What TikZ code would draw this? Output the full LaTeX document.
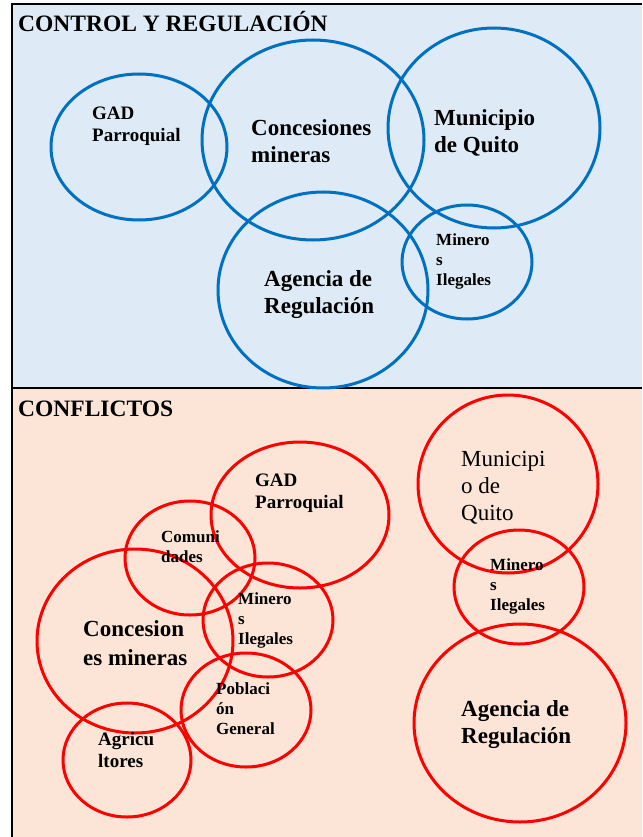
\documentclass[tikz,border=0pt]{standalone}
\usepackage{fontspec}
\setmainfont{Liberation Serif}
\usetikzlibrary{shapes.geometric}

\definecolor{ctrlblue}{RGB}{0,112,192}
\definecolor{ctrlfill}{RGB}{222,235,247}
\definecolor{conffill}{RGB}{252,228,214}
\definecolor{confred}{RGB}{255,0,0}

\tikzstyle{blueset} = [ellipse, draw=ctrlblue, line width=3pt, inner sep=0pt]
\tikzstyle{redset} = [ellipse, draw=confred, line width=3pt, inner sep=0pt]
\tikzstyle{actor} = [anchor=north west, align=left, inner sep=0pt]
\tikzstyle{actorsm} = [actor, font=\bfseries\fontsize{17}{20}\selectfont]
\tikzstyle{actormd} = [actor, font=\bfseries\fontsize{19}{22}\selectfont]
\tikzstyle{actorbg} = [actor, font=\bfseries\fontsize{23}{27}\selectfont]
\tikzstyle{paneltitle} = [anchor=base west, inner sep=0pt, font=\bfseries\fontsize{23.5}{27}\selectfont]

\begin{document}
\begin{tikzpicture}[x=1pt, y=-1pt]
\useasboundingbox (0,0) rectangle (642,837);

% panels
\fill[ctrlfill] (12,4) rectangle (642,388);
\fill[conffill] (12,388) rectangle (642,837);
\draw[line width=2pt] (642,4) -- (12,4) -- (12,837);
\draw[line width=2pt] (12,388) -- (642,388);

\node (ctrltitle) [paneltitle] at (18,32) {CONTROL Y REGULACIÓN};
\node (conftitle) [paneltitle] at (18,416) {CONFLICTOS};

% control y regulacion
\node (gadctrl) [blueset, minimum width=176pt, minimum height=146pt] at (139,147) {};
\node (concctrl) [blueset, minimum width=222pt, minimum height=200pt] at (313,140) {};
\node (munictrl) [blueset, minimum width=212pt, minimum height=200pt] at (494,128) {};
\node (agenctrl) [blueset, minimum width=210pt, minimum height=196pt] at (323,290) {};
\node (minectrl) [blueset, minimum width=130pt, minimum height=114pt] at (467,262) {};

\node (gadctrltxt) [actormd] at (92,107) {GAD\\Parroquial};
\node (concctrltxt) [actorbg] at (251,119) {Concesiones\\mineras};
\node (munictrltxt) [actorbg] at (434,109) {Municipio\\de Quito};
\node (agenctrltxt) [actorbg] at (264,270) {Agencia de\\Regulación};
\node (minectrltxt) [actorsm] at (436,234) {Minero\\s\\Ilegales};

% conflictos
\node (gadconf) [redset, minimum width=178pt, minimum height=146pt] at (300,515) {};
\node (comuconf) [redset, minimum width=130pt, minimum height=114pt] at (190,558) {};
\node (concconf) [redset, minimum width=196pt, minimum height=184pt] at (135,641) {};
\node (mineconf) [redset, minimum width=130pt, minimum height=114pt] at (268,620) {};
\node (poblconf) [redset, minimum width=130pt, minimum height=114pt] at (246,710) {};
\node (agriconf) [redset, minimum width=128pt, minimum height=114pt] at (127,760) {};
\node (municonf) [redset, minimum width=180pt, minimum height=178pt] at (508,484) {};
\node (minerconf) [redset, minimum width=130pt, minimum height=114pt] at (519,587) {};
\node (agenconf) [redset, minimum width=212pt, minimum height=198pt] at (520,723) {};

\node (gadconftxt) [actormd] at (255,474) {GAD\\Parroquial};
\node (comuconftxt) [actorsm] at (161,530) {Comuni\\dades};
\node (concconftxt) [actorbg, font=\bfseries\fontsize{23}{29}\selectfont] at (83,620) {Concesion\\es mineras};
\node (mineconftxt) [actorsm] at (238,592) {Minero\\s\\Ilegales};
\node (poblconftxt) [actorsm] at (216,682) {Poblaci\\ón\\General};
\node (agriconftxt) [actormd] at (98,732) {Agricu\\ltores};
\node (municonftxt) [actor, font=\fontsize{23}{27}\selectfont] at (461,451) {Municipi\\o de\\Quito};
\node (minerconftxt) [actorsm] at (490,558) {Minero\\s\\Ilegales};
\node (agenconftxt) [actorbg] at (461,700) {Agencia de\\Regulación};
\end{tikzpicture}
\end{document}
